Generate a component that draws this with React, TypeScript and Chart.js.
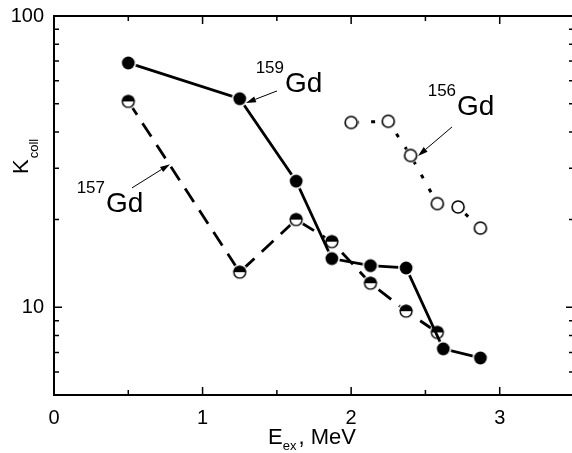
import React, { useEffect, useRef } from 'react';
import { Chart, registerables } from 'chart.js';

Chart.register(...registerables);

// ---- data ----
const gd159X = [0.5, 1.25, 1.63, 1.87, 2.13, 2.37, 2.62, 2.87];
const gd159Y = [69.0, 52.0, 27.1, 14.7, 13.9, 13.65, 7.2, 6.7];

const gd157X = [0.5, 1.25, 1.63, 1.87, 2.13, 2.37, 2.58];
const gd157Y = [50.9, 13.2, 20.0, 16.8, 12.1, 9.7, 8.2];

const gd156X = [2.0, 2.25, 2.4, 2.58, 2.72, 2.87];
const gd156Y = [43.1, 43.5, 33.2, 22.7, 22.1, 18.7];

const xTickLabels = [0, 1, 2, 3];
const xMinorTicks = [0.5, 1.5, 2.5];
const yTickLabels = [10, 100];
const yMinorTicks = [6, 7, 8, 9, 20, 30, 40, 50, 60, 70, 80, 90];

// annotation labels: mass number, "Gd" anchor (left baseline) in data units
const labelMass = ['159', '157', '156'];
const labelX = [1.555, 0.35, 2.713];
const labelY = [54.8, 21.2, 45.7];
// arrows (data units): from -> to
const arrowFromX = [1.501, 0.525, 2.679];
const arrowFromY = [55.3, 25.7, 41.6];
const arrowToX = [1.292, 0.781, 2.45];
const arrowToY = [50.3, 31.0, 33.1];

const FONT = "'Liberation Sans', Arial, Helvetica, sans-serif";

function pts(xs: number[], ys: number[]) {
  return xs.map((x, i) => ({ x, y: ys[i] }));
}

function makeMarker(kind: 'filled' | 'half' | 'open'): HTMLCanvasElement {
  const c = document.createElement('canvas');
  c.width = 20;
  c.height = 20;
  const g = c.getContext('2d')!;
  const cx = 10, cy = 10;
  const r = kind === 'open' ? 6 : 6.4;
  g.fillStyle = '#fff';
  g.beginPath();
  g.arc(cx, cy, r + 1.6, 0, Math.PI * 2);
  g.fill();
  if (kind === 'filled') {
    g.fillStyle = '#000';
    g.beginPath();
    g.arc(cx, cy, r, 0, Math.PI * 2);
    g.fill();
  } else if (kind === 'half') {
    g.fillStyle = '#fff';
    g.beginPath();
    g.arc(cx, cy, r, 0, Math.PI * 2);
    g.fill();
    g.fillStyle = '#000';
    g.beginPath();
    g.arc(cx, cy, r, Math.PI, Math.PI * 2);
    g.closePath();
    g.fill();
    g.strokeStyle = '#000';
    g.lineWidth = 1.4;
    g.beginPath();
    g.arc(cx, cy, r - 0.5, 0, Math.PI * 2);
    g.stroke();
  } else {
    g.fillStyle = '#fff';
    g.beginPath();
    g.arc(cx, cy, r, 0, Math.PI * 2);
    g.fill();
    g.strokeStyle = '#000';
    g.lineWidth = 1.6;
    g.beginPath();
    g.arc(cx, cy, r, 0, Math.PI * 2);
    g.stroke();
  }
  return c;
}

const decorPlugin = {
  id: 'decor',
  afterDraw(chart: any) {
    const ctx: CanvasRenderingContext2D = chart.ctx;
    const { left, right, top, bottom } = chart.chartArea;
    const xs = chart.scales.x;
    const ys = chart.scales.y;
    ctx.save();
    ctx.strokeStyle = '#000';
    ctx.fillStyle = '#000';

    // ticks (inward)
    ctx.lineWidth = 1.5;
    const vtick = (v: number, len: number) => {
      const px = xs.getPixelForValue(v);
      ctx.beginPath();
      ctx.moveTo(px, bottom);
      ctx.lineTo(px, bottom - len);
      ctx.moveTo(px, top);
      ctx.lineTo(px, top + len);
      ctx.stroke();
    };
    xTickLabels.forEach((v) => vtick(v, 8));
    xMinorTicks.forEach((v) => vtick(v, 5));
    const htick = (v: number, len: number) => {
      const py = ys.getPixelForValue(v);
      ctx.beginPath();
      ctx.moveTo(left, py);
      ctx.lineTo(left + len, py);
      ctx.moveTo(right, py);
      ctx.lineTo(right - len, py);
      ctx.stroke();
    };
    yTickLabels.forEach((v) => htick(v, 8));
    yMinorTicks.forEach((v) => htick(v, 5));

    // frame
    ctx.lineWidth = 2;
    ctx.strokeRect(left, top, right - left, bottom - top);

    // annotations
    ctx.textAlign = 'left';
    ctx.textBaseline = 'alphabetic';
    labelMass.forEach((m, i) => {
      const px = xs.getPixelForValue(labelX[i]);
      const py = ys.getPixelForValue(labelY[i]);
      ctx.font = `28px ${FONT}`;
      ctx.fillText('Gd', px, py);
      ctx.font = `17px ${FONT}`;
      const w = ctx.measureText(m).width;
      ctx.fillText(m, px - w - 1, py - 19);
    });
    ctx.lineWidth = 1;
    arrowFromX.forEach((_, i) => {
      const x1 = xs.getPixelForValue(arrowFromX[i]);
      const y1 = ys.getPixelForValue(arrowFromY[i]);
      const x2 = xs.getPixelForValue(arrowToX[i]);
      const y2 = ys.getPixelForValue(arrowToY[i]);
      const a = Math.atan2(y2 - y1, x2 - x1);
      const hl = 10, hw = 3;
      const bx = x2 - hl * Math.cos(a);
      const by = y2 - hl * Math.sin(a);
      ctx.beginPath();
      ctx.moveTo(x1, y1);
      ctx.lineTo(bx, by);
      ctx.stroke();
      ctx.beginPath();
      ctx.moveTo(x2, y2);
      ctx.lineTo(bx - hw * Math.sin(a), by + hw * Math.cos(a));
      ctx.lineTo(bx + hw * Math.sin(a), by - hw * Math.cos(a));
      ctx.closePath();
      ctx.fill();
    });

    // x axis title: E_ex, MeV
    ctx.font = `22px ${FONT}`;
    const wE = ctx.measureText('E').width;
    const wRest = ctx.measureText(', MeV').width;
    ctx.font = `13px ${FONT}`;
    const wSub = ctx.measureText('ex').width;
    const total = wE + wSub + 2 + wRest;
    let tx = 312 - total / 2;
    const tb = bottom + 49;
    ctx.font = `22px ${FONT}`;
    ctx.fillText('E', tx, tb);
    tx += wE;
    ctx.font = `13px ${FONT}`;
    ctx.fillText('ex', tx, tb + 6);
    tx += wSub + 2;
    ctx.font = `22px ${FONT}`;
    ctx.fillText(', MeV', tx, tb);

    // y axis title: K_coll (rotated)
    ctx.translate(left - 26, top + 158);
    ctx.rotate(-Math.PI / 2);
    ctx.font = `22px ${FONT}`;
    ctx.fillText('K', 0, 0);
    const wK = ctx.measureText('K').width;
    ctx.font = `13px ${FONT}`;
    ctx.fillText('coll', wK + 1, 10);
    ctx.restore();
  },
};

export default function App() {
  const ref = useRef<HTMLCanvasElement | null>(null);
  useEffect(() => {
    if (!ref.current) return;
    const filled = makeMarker('filled');
    const half = makeMarker('half');
    const open = makeMarker('open');
    const chart = new Chart(ref.current, {
      type: 'line',
      data: {
        datasets: [
          {
            data: pts(gd159X, gd159Y),
            borderColor: '#000',
            borderWidth: 2.8,
            pointStyle: filled as any,
            pointRadius: 7,
            tension: 0,
          },
          {
            data: pts(gd157X, gd157Y),
            borderColor: '#000',
            borderWidth: 2.8,
            borderDash: [16, 10],
            pointStyle: half as any,
            pointRadius: 7,
            tension: 0,
          },
          {
            data: pts(gd156X, gd156Y),
            borderColor: '#000',
            borderWidth: 3,
            borderDash: [4, 12],
            borderDashOffset: -4,
            pointStyle: open as any,
            pointRadius: 7,
            tension: 0,
          },
        ],
      },
      options: {
        responsive: false,
        animation: false,
        devicePixelRatio: 1,
        layout: { autoPadding: false, padding: { top: 16, right: 2, left: 0, bottom: 0 } },
        plugins: {
          legend: { display: false },
          tooltip: { enabled: false },
        },
        scales: {
          x: {
            type: 'linear',
            min: 0,
            max: 3.5,
            position: 'bottom',
            afterFit: (s: any) => {
              s.height = 58;
              s.paddingLeft = 0;
              s.paddingRight = 0;
            },
            grid: { display: false, drawTicks: false },
            border: { display: false },
            ticks: {
              stepSize: 1,
              includeBounds: false,
              padding: 11,
              color: '#000',
              font: { family: FONT, size: 20 },
              maxRotation: 0,
              autoSkip: false,
              callback: (v: any) => (xTickLabels.includes(Number(v)) ? String(v) : ''),
            },
          },
          y: {
            type: 'logarithmic',
            min: 5,
            max: 100,
            afterFit: (s: any) => {
              s.width = 54;
              s.paddingTop = 0;
              s.paddingBottom = 0;
            },
            grid: { display: false, drawTicks: false },
            border: { display: false },
            ticks: {
              padding: 10,
              color: '#000',
              font: { family: FONT, size: 20 },
              autoSkip: false,
              callback: (v: any) => (yTickLabels.includes(Number(v)) ? String(v) : ''),
            },
          },
        },
      } as any,
      plugins: [decorPlugin],
    });
    return () => chart.destroy();
  }, []);
  return (
    <div style={{ position: 'absolute', left: 0, top: 0, width: 572, height: 453, overflow: 'hidden', background: '#fff' }}>
      <canvas ref={ref} width={576} height={453} style={{ display: 'block' }} />
    </div>
  );
}
